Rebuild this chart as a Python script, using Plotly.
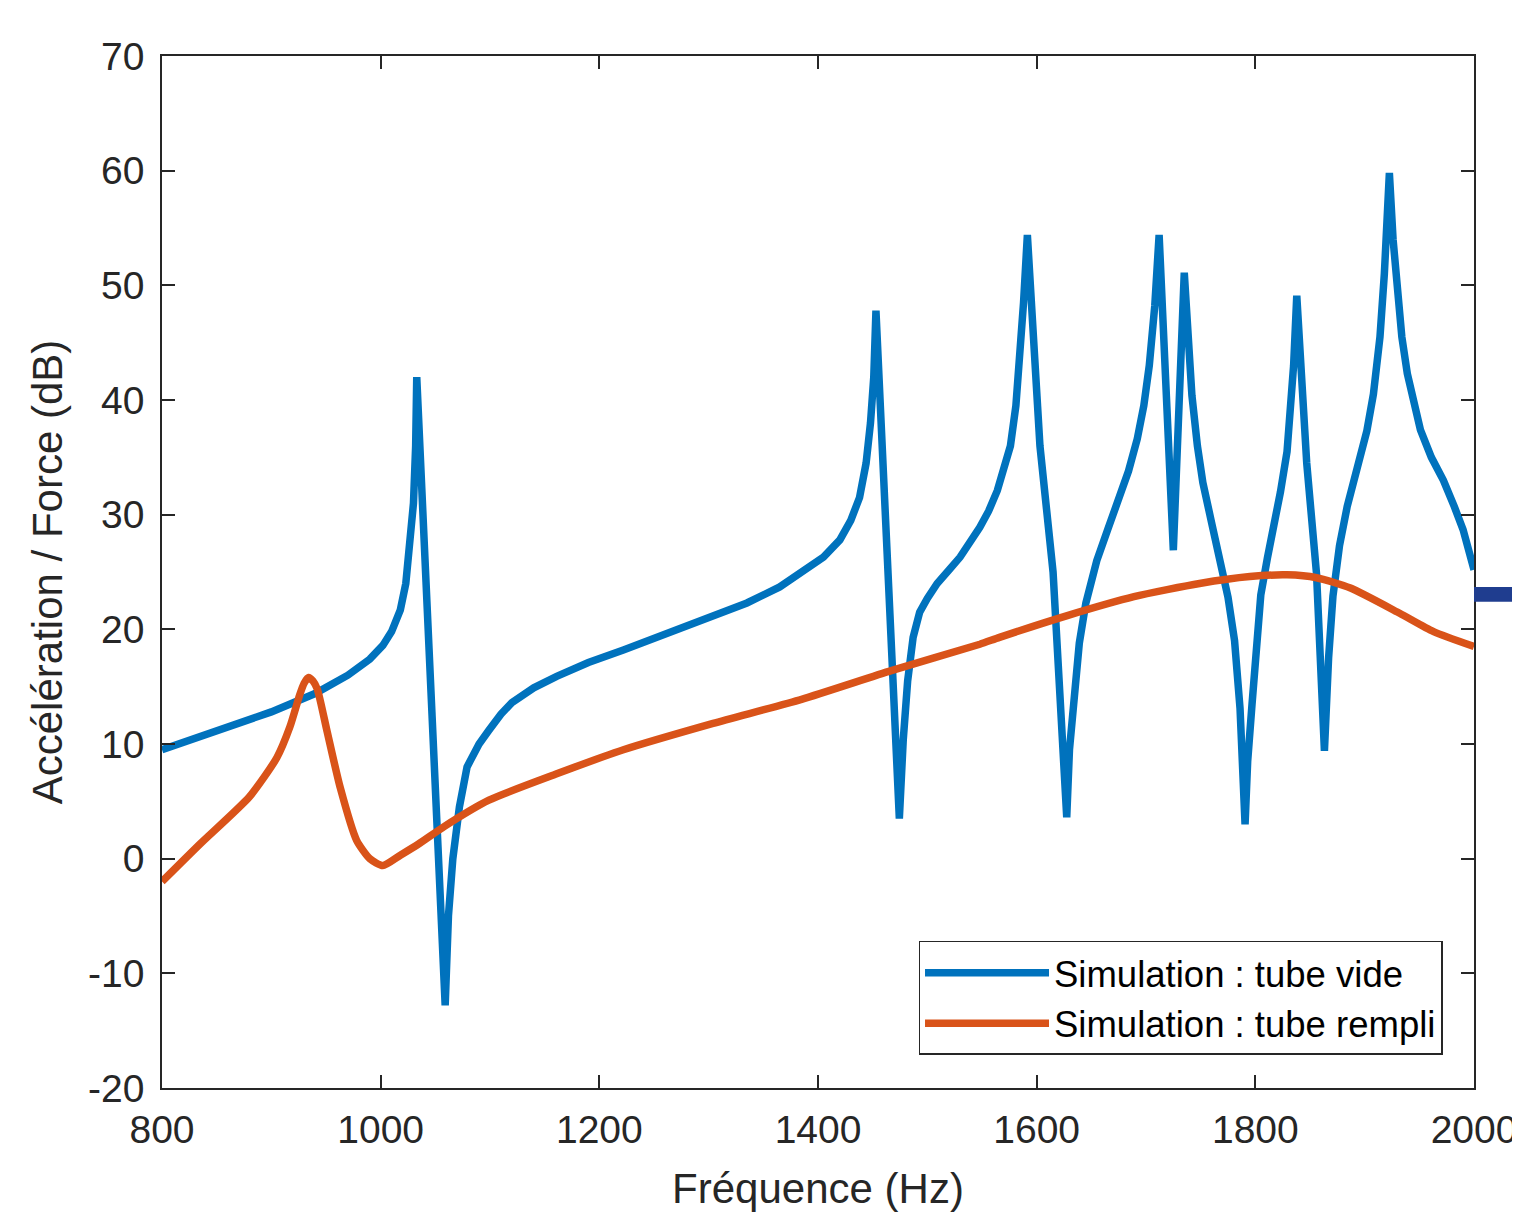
import plotly.graph_objects as go

# ---- data ----
freq_vide = [800, 850, 900, 940, 970, 990, 1002, 1010, 1018, 1023, 1027, 1030,
             1032, 1033, 1059, 1062, 1066, 1072, 1079, 1090, 1099, 1110, 1120,
             1140, 1161, 1190, 1222, 1260, 1304, 1335, 1365, 1390, 1405, 1420,
             1430, 1438, 1444, 1448, 1451, 1453, 1474.4, 1478, 1482, 1487, 1493,
             1500, 1509, 1520, 1530, 1548, 1556, 1564, 1571, 1576, 1581, 1585,
             1588, 1591.5, 1603, 1615, 1627.5, 1630, 1634, 1639, 1645, 1655,
             1665, 1676, 1684, 1692, 1698, 1703, 1708, 1712, 1725, 1735, 1738,
             1742, 1747, 1752, 1760, 1768, 1775, 1781, 1786, 1790.6, 1793, 1797,
             1801, 1805, 1811, 1817, 1823, 1829, 1832, 1835, 1837.9, 1847, 1856,
             1861, 1863.2, 1867, 1871, 1877, 1884, 1893, 1902, 1908, 1914, 1918,
             1922.6, 1926, 1929, 1934, 1939, 1945, 1951, 1961, 1972, 1982, 1990,
             2000]
acc_vide = [9.5, 11.1, 12.8, 14.4, 16.0, 17.4, 18.6, 19.8, 21.7, 24.0, 27.4, 31.0,
            36.0, 42.0, -12.8, -5.0, 0.0, 4.5, 8.0, 10.0, 11.2, 12.6, 13.6,
            14.9, 15.9, 17.1, 18.2, 19.6, 21.1, 22.3, 23.7, 25.3, 26.3, 27.8,
            29.5, 31.5, 34.5, 38.0, 42.0, 47.8, 3.5, 10.4, 15.5, 19.3, 21.5,
            22.7, 24.0, 25.2, 26.3, 28.9, 30.3, 32.1, 34.2, 36.0, 39.5, 44.0,
            48.5, 54.4, 36.0, 25.0, 3.6, 9.5, 14.5, 18.8, 22.3, 26.0,
            28.7, 31.5, 33.8, 36.6, 39.5, 43.0, 48.2, 54.4, 26.9, 51.1, 45.5,
            40.4, 36.0, 32.8, 29.3, 26.0, 22.8, 19.0, 13.1, 3.0, 8.5, 13.5,
            19.0, 23.0, 26.2, 28.8, 32.0, 35.5, 38.5, 43.0, 49.1, 34.5, 24.8,
            15.1, 9.4, 17.5, 22.9, 27.3, 30.7, 34.0, 37.3, 40.5, 45.5, 51.0,
            59.8, 54.0, 50.1, 45.5, 42.3, 39.5, 37.4, 35.0, 33.0, 30.7, 28.7,
            25.2]

freq_rempli = [800, 835, 880, 905, 917, 926, 930, 934, 938, 942, 951, 963, 978,
               990, 1002, 1018, 1035, 1058, 1099, 1161, 1222, 1304, 1385, 1467,
               1548, 1566, 1628, 1689, 1749, 1795, 1829, 1856, 1887, 1932, 1963,
               2000]
acc_rempli = [-2.0, 1.3, 5.4, 8.8, 11.5, 14.3, 15.3, 15.8, 15.5, 14.8, 11.1, 6.2,
              1.6, 0.0, -0.6, 0.3, 1.3, 2.8, 5.1, 7.4, 9.5, 11.8, 13.9, 16.4,
              18.7, 19.3, 21.2, 22.85, 24.0, 24.6, 24.75, 24.5, 23.6, 21.4, 19.8,
              18.5]

x_ticks = [800, 1000, 1200, 1400, 1600, 1800, 2000]
y_ticks = [-20, -10, 0, 10, 20, 30, 40, 50, 60, 70]

BLUE = "#0072BD"
ORANGE = "#D95319"
AXC = "#262626"
FONT = "Liberation Sans, Arial, sans-serif"

fig = go.Figure()
fig.add_trace(go.Scatter(x=freq_vide, y=acc_vide, mode="lines",
                         name="Simulation : tube vide",
                         line=dict(color=BLUE, width=7.5)))
fig.add_trace(go.Scatter(x=freq_rempli, y=acc_rempli, mode="lines",
                         name="Simulation : tube rempli",
                         line=dict(color=ORANGE, width=7.5, shape="spline",
                                   smoothing=0.6)))

axis_common = dict(showline=True, linecolor=AXC, linewidth=1.5, mirror="ticks",
                   ticks="inside", ticklen=13, tickwidth=1.5, tickcolor=AXC,
                   showgrid=False, zeroline=False, ticklabeloverflow="allow",
                   tickfont=dict(family=FONT, size=39, color=AXC))

fig.update_xaxes(range=[800, 2000], tickvals=x_ticks,
                 ticktext=[str(v) for v in x_ticks], ticklabelstandoff=6,
                 title=dict(text="Fréquence (Hz)", standoff=32,
                            font=dict(family=FONT, size=42, color=AXC)),
                 **axis_common)
fig.update_yaxes(range=[-20, 70], tickvals=y_ticks,
                 ticktext=[str(v) for v in y_ticks], ticklabelstandoff=8,
                 title=dict(text="Accélération / Force (dB)", standoff=12,
                            font=dict(family=FONT, size=42, color=AXC)),
                 **axis_common)

# page body has an 8px margin: figure is sized/placed so the plot area
# lands at the same screen position as in the reference
fig.update_layout(
    width=1512, height=1204,
    margin=dict(l=154, r=46, t=48, b=124, autoexpand=False),
    paper_bgcolor="white", plot_bgcolor="white",
    font=dict(family=FONT, color=AXC),
    legend=dict(x=0.976, y=0.032, xanchor="right", yanchor="bottom",
                bgcolor="white", bordercolor=AXC, borderwidth=1.5,
                font=dict(family=FONT, size=36.5, color="black"),
                itemwidth=124, tracegroupgap=0),
    shapes=[dict(type="rect", xref="paper", yref="y", x0=1.0, x1=1.04,
                 y0=22.4, y1=23.7, fillcolor="#1f3d8f", line=dict(width=0),
                 layer="above")],
)

fig.write_html("out.html")
